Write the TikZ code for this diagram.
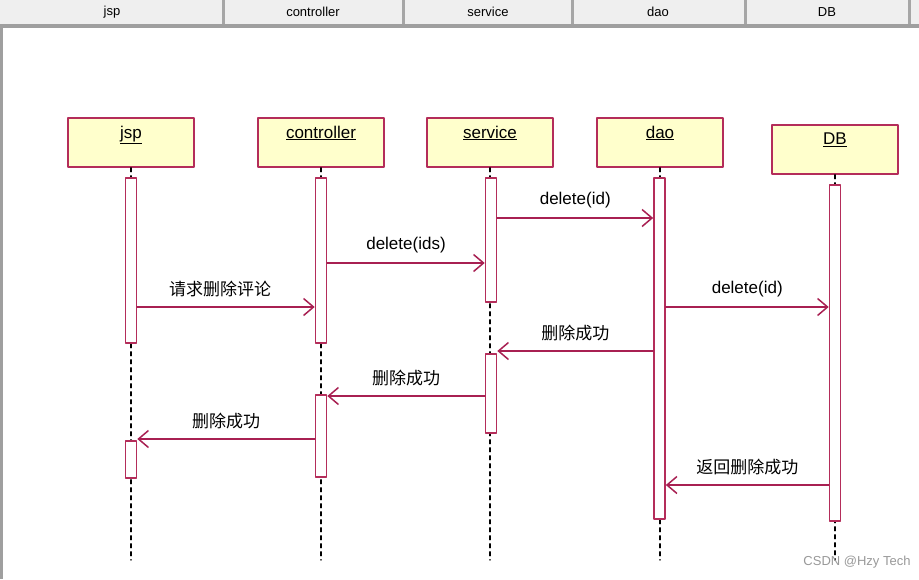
\documentclass[tikz,border=0pt]{standalone}
\usepackage{fontspec}
\setmainfont{Liberation Sans}
\newfontfamily\cjk{Noto Sans CJK SC}
\usetikzlibrary{arrows.meta,positioning}
\definecolor{umlred}{RGB}{168,32,82}
\definecolor{umlbox}{RGB}{180,45,90}
\definecolor{umlfill}{RGB}{255,255,204}
\definecolor{barfill}{RGB}{239,239,239}
\tikzset{every picture/.style={line cap=round, line join=round}}
\tikzset{obj/.style={draw=umlbox, fill=umlfill, rectangle, line width=1.6pt,
  minimum width=126pt, minimum height=49pt, inner sep=0pt}}
\tikzset{objname/.style={label={[anchor=north, yshift=-5pt, font=\fontsize{17}{19}\selectfont]north:\underline{#1}}}}
\tikzset{act/.style={draw=umlbox, fill=white, rectangle, line width=1.6pt,
  minimum width=11pt, inner sep=0pt}}
\tikzset{life/.style={draw=black, line width=1.3pt, dash pattern=on 4pt off 4pt}}
\tikzset{msg/.style={draw=umlred, line width=1.5pt, -{Straight Barb[length=10pt,width=17pt]}}}
\tikzset{msglbl/.style={midway, above=6pt, font=\fontsize{17}{19}\selectfont}}
\tikzset{head/.style={font=\fontsize{13}{15}\selectfont}}

\begin{document}
\begin{tikzpicture}[x=1pt,y=-1pt]
  \useasboundingbox (0,0) rectangle (919,579);
  \fill[white] (0,0) rectangle (919,579);

  % header strip
  \fill[barfill] (0,0) rectangle (919,24);
  \fill[gray!75] (0,24) rectangle (919,28);
  \fill[gray!75] (0,28) rectangle (3,579);
  \foreach \sx in {223,403,572,745,909}
    \fill[gray!70] (\sx-1.5,0) rectangle (\sx+1.5,24);
  \node[head] (hjsp) at (112,12) {jsp};
  \node[head] (hctl) at (313,12) {controller};
  \node[head] (hsrv) at (488,12) {service};
  \node[head] (hdao) at (658,12) {dao};
  \node[head] (hdb)  at (827,12) {DB};

  % objects
  \node[obj, objname=jsp] (jsp) at (131,142.5) {};
  \node[obj, objname=controller] (ctl) at (321,142.5) {};
  \node[obj, objname=service] (srv) at (490,142.5) {};
  \node[obj, objname=dao] (dao) at (660,142.5) {};
  \node[obj, objname=DB] (db) at (835,149.5) {};

  % lifelines
  \coordinate (bot) at (0,560);
  \draw[life] (jsp.south) -- (jsp.south |- bot);
  \draw[life] (ctl.south) -- (ctl.south |- bot);
  \draw[life] (srv.south) -- (srv.south |- bot);
  \draw[life] (dao.south) -- (dao.south |- bot);
  \draw[life] (db.south) -- (db.south |- bot);

  % activations
  \node[act, minimum height=165pt] (jspA) at (131,260.5) {};
  \node[act, minimum height=37pt] (jspB) at (131,459.5) {};
  \node[act, minimum height=165pt] (ctlA) at (321,260.5) {};
  \node[act, minimum height=82pt] (ctlB) at (321,436) {};
  \node[act, minimum height=124pt] (srvA) at (491,240) {};
  \node[act, minimum height=79pt] (srvB) at (491,393.5) {};
  \node[act, minimum height=341pt] (daoA) at (659.5,348.5) {};
  \node[act, minimum height=336pt] (dbA) at (835,353) {};

  % messages
  \coordinate (m1) at (0,307);
  \coordinate (m2) at (0,263);
  \coordinate (m3) at (0,218);
  \coordinate (m4) at (0,307);
  \coordinate (m5) at (0,351);
  \coordinate (m6) at (0,396);
  \coordinate (m7) at (0,439);
  \coordinate (m8) at (0,485);
  \draw[msg] (jspA.east |- m1) -- node[msglbl, xshift=-6pt]{\cjk 请求删除评论} (ctlA.west |- m1);
  \draw[msg] (ctlA.east |- m2) -- node[msglbl]{delete(ids)} (srvA.west |- m2);
  \draw[msg] (srvA.east |- m3) -- node[msglbl]{delete(id)} (daoA.west |- m3);
  \draw[msg] (daoA.east |- m4) -- node[msglbl]{delete(id)} (dbA.west |- m4);
  \draw[msg] (daoA.west |- m5) -- node[msglbl]{\cjk 删除成功} (srvB.east |- m5);
  \draw[msg] (srvB.west |- m6) -- node[msglbl]{\cjk 删除成功} (ctlB.east |- m6);
  \draw[msg] (ctlB.west |- m7) -- node[msglbl]{\cjk 删除成功} (jspB.east |- m7);
  \draw[msg] (dbA.west |- m8) -- node[msglbl]{\cjk 返回删除成功} (daoA.east |- m8);

  \node[text=gray!80, font=\fontsize{13}{15}\selectfont] (mark) at (857,562) {CSDN @Hzy Tech};
\end{tikzpicture}
\end{document}
